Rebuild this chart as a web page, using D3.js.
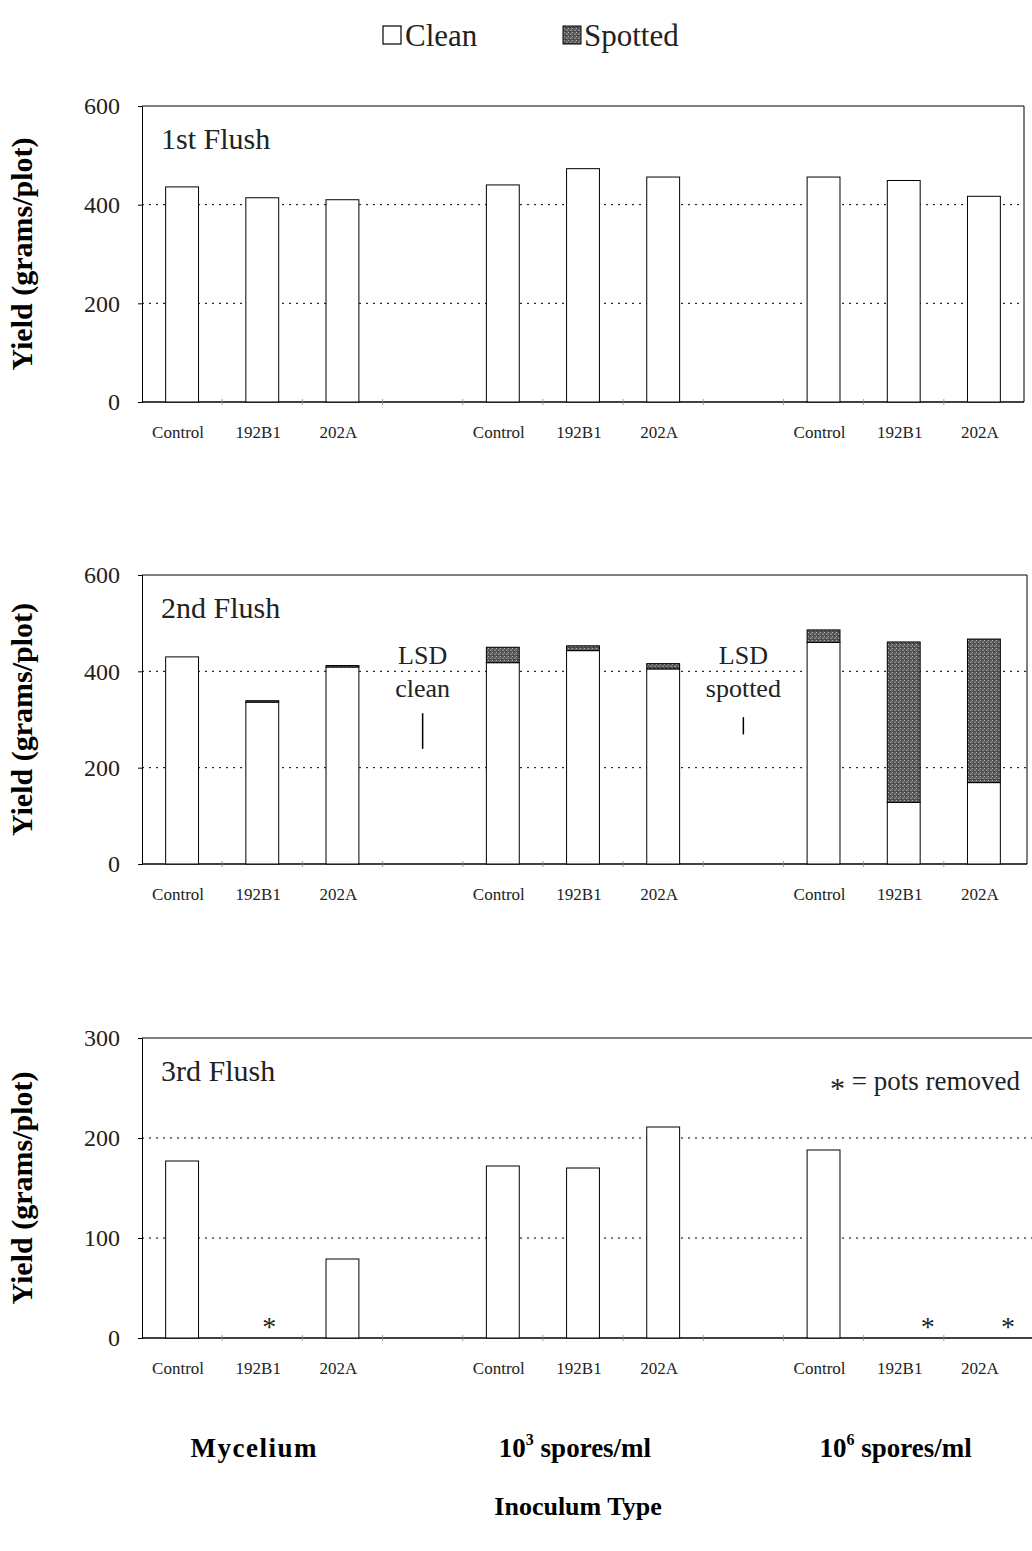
<!DOCTYPE html>
<html>
<head>
<meta charset="utf-8">
<script src="https://cdn.jsdelivr.net/npm/d3@7"></script>
<style>
  body { margin: 0; background: #fff; }
  svg { font-family: "Liberation Serif", "Times New Roman", serif; }
</style>
</head>
<body>
<svg width="1032" height="1551"></svg>
<script>
'use strict';

// x slots: 3 groups of 3 treatments, with an empty slot between groups
var treatments = ['Control', '192B1', '202A'];
var groups = ['Mycelium', '10^3 spores/ml', '10^6 spores/ml'];

// yields (grams/plot), one value per treatment in group order
var flush1Clean = [436, 414, 410, 440, 473, 456, 456, 449, 417];
var flush2Clean = [430, 336, 409, 418, 443, 405, 460, 128, 169];
var flush2Spotted = [0, 3, 3, 32, 10, 11, 26, 333, 298];
var flush3Clean = [177, null, 79, 172, 170, 211, 188, null, null]; // null = pots removed

var lsdLabels = ['clean', 'spotted'];
var lsdValues = [74, 36];

var yTicks1 = [0, 200, 400, 600];
var yTicks3 = [0, 100, 200, 300];

var svg = d3.select('svg');

// pattern for spotted fill
var defs = svg.append('defs');
var pat = defs.append('pattern').attr('id', 'spot')
    .attr('width', 4).attr('height', 4).attr('patternUnits', 'userSpaceOnUse');
pat.append('rect').attr('width', 4).attr('height', 4).attr('fill', '#5a5a5a');
pat.append('rect').attr('x', 0).attr('y', 0).attr('width', 1).attr('height', 1).attr('fill', '#b0b0b0');
pat.append('rect').attr('x', 2).attr('y', 2).attr('width', 1).attr('height', 1).attr('fill', '#a0a0a0');
pat.append('rect').attr('x', 1).attr('y', 3).attr('width', 2).attr('height', 1).attr('fill', '#3a3a3a');
pat.append('rect').attr('x', 3).attr('y', 1).attr('width', 1).attr('height', 2).attr('fill', '#7a7a7a');

// slot names: 11 slots, gaps at 3 and 7
var slots = [];
groups.forEach(function (g, gi) {
    treatments.forEach(function (t) { slots.push(g + '|' + t); });
    if (gi < groups.length - 1) slots.push('gap' + gi);
});

var left = 142, right = 1024;
var x = d3.scaleBand().domain(slots).range([left, right]).paddingInner(0.59).paddingOuter(0.295);

function slotKey(i) {
    return groups[Math.floor(i / 3)] + '|' + treatments[i % 3];
}

// legend
var leg = svg.append('g').attr('font-size', 31).attr('fill', '#222');
leg.append('rect').attr('x', 383).attr('y', 26).attr('width', 18).attr('height', 18)
    .attr('fill', '#fff').attr('stroke', '#000').attr('stroke-width', 1.2);
leg.append('text').attr('x', 405).attr('y', 46).text('Clean');
leg.append('rect').attr('x', 563).attr('y', 26).attr('width', 18).attr('height', 18)
    .attr('fill', 'url(#spot)').attr('stroke', '#000').attr('stroke-width', 1);
leg.append('text').attr('x', 584).attr('y', 46).text('Spotted');

function drawPanel(cfg) {
    var g = svg.append('g');
    var y = d3.scaleLinear().domain([0, cfg.max]).range([cfg.bottom, cfg.top]);

    // frame
    g.append('line').attr('x1', left).attr('x2', cfg.frameRight).attr('y1', cfg.top).attr('y2', cfg.top)
        .attr('stroke', '#000').attr('stroke-width', 1);
    if (cfg.rightBorder) {
        g.append('line').attr('x1', cfg.frameRight).attr('x2', cfg.frameRight).attr('y1', cfg.top).attr('y2', cfg.bottom)
            .attr('stroke', '#000').attr('stroke-width', 1);
    }

    // dotted grid
    g.selectAll('.grid').data(cfg.ticks.filter(function (d) { return d > 0 && d < cfg.max; }))
        .enter().append('line')
        .attr('x1', left).attr('x2', cfg.frameRight)
        .attr('y1', function (d) { return y(d); }).attr('y2', function (d) { return y(d); })
        .attr('stroke', '#000').attr('stroke-width', 1).attr('stroke-dasharray', '2,5');

    // y axis
    var yAxis = d3.axisLeft(y).tickValues(cfg.ticks).tickSize(4).tickPadding(18);
    var ya = g.append('g').attr('transform', 'translate(' + left + ',0)').call(yAxis);
    ya.select('.domain').attr('stroke', '#000');
    ya.selectAll('text').attr('font-size', 24).attr('font-family', '"Liberation Serif", serif').attr('fill', '#222');

    // x axis
    var xAxis = d3.axisBottom(x).tickSize(0).tickPadding(24)
        .tickFormat(function (d) { return d.indexOf('gap') === 0 ? '' : d.split('|')[1]; });
    var xa = g.append('g').attr('transform', 'translate(0,' + cfg.bottom + ')').call(xAxis);
    xa.select('.domain').attr('d', 'M' + left + ',0H' + cfg.frameRight).attr('stroke', '#000').attr('stroke-width', 1.3);
    xa.selectAll('text').attr('font-size', 17).attr('font-family', '"Liberation Serif", serif').attr('fill', '#222')
        .attr('dx', -4);

    // small ticks at band boundaries
    var step = x.step();
    g.selectAll('.xt').data(d3.range(1, slots.length)).enter().append('line')
        .attr('x1', function (d) { return left + d * step; })
        .attr('x2', function (d) { return left + d * step; })
        .attr('y1', cfg.bottom - 3).attr('y2', cfg.bottom + 3)
        .attr('stroke', '#888').attr('stroke-width', 0.8);

    // clean bars
    var cleanData = cfg.clean.map(function (v, i) { return { k: slotKey(i), v: v }; })
        .filter(function (d) { return d.v !== null; });
    g.selectAll('.clean').data(cleanData).enter().append('rect')
        .attr('x', function (d) { return x(d.k); })
        .attr('width', x.bandwidth())
        .attr('y', function (d) { return y(d.v); })
        .attr('height', function (d) { return cfg.bottom - y(d.v); })
        .attr('fill', '#fff').attr('stroke', '#000').attr('stroke-width', 1);

    // spotted bars stacked on top
    if (cfg.spotted) {
        var spotData = cfg.spotted.map(function (v, i) { return { k: slotKey(i), base: cfg.clean[i], v: v }; })
            .filter(function (d) { return d.v > 0; });
        g.selectAll('.spot').data(spotData).enter().append('rect')
            .attr('x', function (d) { return x(d.k); })
            .attr('width', x.bandwidth())
            .attr('y', function (d) { return y(d.base + d.v); })
            .attr('height', function (d) { return y(d.base) - y(d.base + d.v); })
            .attr('fill', 'url(#spot)').attr('stroke', '#000').attr('stroke-width', 1);
    }

    // removed pots
    var removed = cfg.clean.map(function (v, i) { return { k: slotKey(i), v: v, i: i }; })
        .filter(function (d) { return d.v === null; });
    g.selectAll('.star').data(removed).enter().append('text')
        .attr('x', function (d) { return x(d.k) + x.bandwidth() / 2 + (d.i > 5 ? 24 : 7); })
        .attr('y', cfg.bottom - 2)
        .attr('text-anchor', 'middle').attr('font-size', 28).attr('fill', '#222').text('*');

    // panel title
    g.append('text').attr('x', 161).attr('y', cfg.top + 43).attr('font-size', 30).attr('fill', '#222')
        .text(cfg.title);

    // y title
    g.append('text')
        .attr('transform', 'translate(32,' + ((cfg.top + cfg.bottom) / 2) + ') rotate(-90)')
        .attr('text-anchor', 'middle').attr('font-size', 30).attr('font-weight', 'bold')
        .text('Yield (grams/plot)');

    return { g: g, y: y };
}

drawPanel({ title: '1st Flush', top: 106, bottom: 402, max: 600, ticks: yTicks1,
    clean: flush1Clean, frameRight: right, rightBorder: true });

var p2 = drawPanel({ title: '2nd Flush', top: 575, bottom: 864, max: 600, ticks: yTicks1,
    clean: flush2Clean, spotted: flush2Spotted, frameRight: right + 3, rightBorder: true });

// LSD annotations in the gap slots
var lsdBase = [239, 269];
lsdLabels.forEach(function (lab, i) {
    var cx = x('gap' + i) + x.bandwidth() / 2;
    p2.g.append('line').attr('x1', cx).attr('x2', cx)
        .attr('y1', p2.y(lsdBase[i])).attr('y2', p2.y(lsdBase[i] + lsdValues[i]))
        .attr('stroke', '#000').attr('stroke-width', 1.5);
    p2.g.append('text').attr('x', cx).attr('y', 664).attr('text-anchor', 'middle')
        .attr('font-size', 26).attr('fill', '#222').text('LSD');
    p2.g.append('text').attr('x', cx).attr('y', 697).attr('text-anchor', 'middle')
        .attr('font-size', 26).attr('fill', '#222').text(lab);
});

var p3 = drawPanel({ title: '3rd Flush', top: 1038, bottom: 1338, max: 300, ticks: yTicks3,
    clean: flush3Clean, frameRight: 1032, rightBorder: false });

var note = p3.g.append('text').attr('x', 1020).attr('y', 1090).attr('text-anchor', 'end')
    .attr('font-size', 27).attr('fill', '#222');
note.append('tspan').attr('font-size', 30).attr('dy', 8).text('*');
note.append('tspan').attr('dy', -8).text('  =  pots removed');

// group labels under the middle treatment of each group
groups.forEach(function (gname, gi) {
    var cx = x(gname + '|' + treatments[1]) + x.bandwidth() / 2 - 8;
    var t = svg.append('text').attr('x', cx).attr('y', 1457).attr('text-anchor', 'middle')
        .attr('font-size', 27).attr('font-weight', 'bold');
    var m = gname.match(/^10\^(\d) (.*)$/);
    if (m) {
        t.append('tspan').text('10');
        t.append('tspan').attr('font-size', 16).attr('dy', -12).text(m[1]);
        t.append('tspan').attr('dy', 12).text(' ' + m[2]);
    } else {
        t.attr('letter-spacing', 1.5).text(gname);
    }
});

svg.append('text').attr('x', 578).attr('y', 1515).attr('text-anchor', 'middle')
    .attr('font-size', 26).attr('font-weight', 'bold').text('Inoculum Type');
</script>
</body>
</html>
